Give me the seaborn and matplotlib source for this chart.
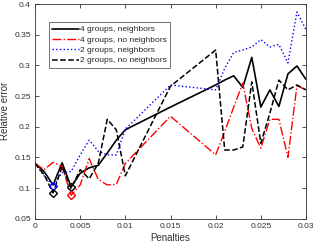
import numpy as np
import pandas as pd
import matplotlib
matplotlib.use("Agg")
import matplotlib.pyplot as plt
import seaborn as sns

# penalty values (x axis)
penalties = [0.000, 0.001, 0.002, 0.003, 0.004, 0.005, 0.006, 0.007, 0.008, 0.009, 0.010,
             0.015, 0.020, 0.021, 0.022, 0.023, 0.024, 0.025, 0.026, 0.027, 0.028, 0.029, 0.030]

g4_nb = [0.140, 0.127, 0.105, 0.141, 0.102, 0.124, 0.133, 0.137, 0.157, 0.178, 0.195,
         0.232, 0.268, 0.276, 0.283, 0.264, 0.313, 0.232, 0.260, 0.233, 0.286, 0.299, 0.277]
g4_nonb = [0.140, 0.130, 0.142, 0.135, 0.088, 0.105, 0.148, 0.114, 0.105, 0.106, 0.140,
           0.217, 0.154, 0.192, 0.232, 0.271, 0.197, 0.165, 0.212, 0.212, 0.150, 0.267, 0.260]
g2_nb = [0.140, 0.120, 0.104, 0.125, 0.127, 0.154, 0.178, 0.160, 0.154, 0.154, 0.196,
         0.268, 0.260, 0.295, 0.321, 0.325, 0.330, 0.342, 0.330, 0.334, 0.304, 0.387, 0.358]
g2_nonb = [0.140, 0.122, 0.092, 0.135, 0.099, 0.130, 0.115, 0.140, 0.212, 0.195, 0.120,
           0.266, 0.325, 0.162, 0.162, 0.167, 0.273, 0.173, 0.222, 0.276, 0.260, 0.268, 0.260]

labels = ["4 groups, neighbors", "4 groups, no neighbors",
          "2 groups, neighbors", "2 groups, no neighbors"]
colors = ["black", "red", "blue", "black"]
styles = ["-", "-.", ":", "--"]
widths = [1.2, 1.0, 1.0, 1.1]

sns.set_style("ticks")
plt.rcParams["font.family"] = ["Liberation Sans", "DejaVu Sans"]

fig = plt.figure(figsize=(3.14, 2.44), dpi=100)
ax = fig.add_axes([0.1115, 0.1037, 0.863, 0.8799])

series = [g4_nb, g4_nonb, g2_nb, g2_nonb]
for vals, lab, c, ls, lw in zip(series, labels, colors, styles, widths):
    df = pd.DataFrame({"penalty": penalties, "err": vals})
    sns.lineplot(data=df, x="penalty", y="err", ax=ax, color=c, linestyle=ls,
                 linewidth=lw, label=lab)

# diamond at the minimum of each curve
for vals, c in zip(series, colors):
    i = int(np.argmin(vals))
    ax.plot(penalties[i], vals[i], marker="D", markersize=4, mfc="none",
            mec=c, mew=1.0, linestyle="none")

ax.set_xlim(0, 0.03)
ax.set_ylim(0.05, 0.4)
ax.set_xticks([0, 0.005, 0.01, 0.015, 0.02, 0.025, 0.03])
ax.set_xticklabels(["0", "0.005", "0.01", "0.015", "0.02", "0.025", "0.03"])
ax.set_yticks([0.05, 0.1, 0.15, 0.2, 0.25, 0.3, 0.35, 0.4])
ax.set_yticklabels(["0.05", "0.1", "0.15", "0.2", "0.25", "0.3", "0.35", "0.4"])
ax.tick_params(direction="in", top=True, right=True, labelsize=6, length=3,
               width=0.6, pad=3, colors="#333333", labelcolor="#333333")
for s in ax.spines.values():
    s.set_linewidth(0.6)
    s.set_color("#333333")
ax.set_xlabel("Penalties", fontsize=7, labelpad=2, color="#333333")
ax.set_ylabel("Relative error", fontsize=7, labelpad=3, color="#333333")

leg = ax.legend(loc="upper left", bbox_to_anchor=(0.05, 0.915), fontsize=6,
                frameon=True, fancybox=False, handlelength=3.3, handletextpad=0.1,
                borderpad=0.4, labelspacing=0.3, borderaxespad=0)
leg.get_frame().set_edgecolor("#333333")
leg.get_frame().set_linewidth(0.6)

fig.savefig("out.png", dpi=100)
